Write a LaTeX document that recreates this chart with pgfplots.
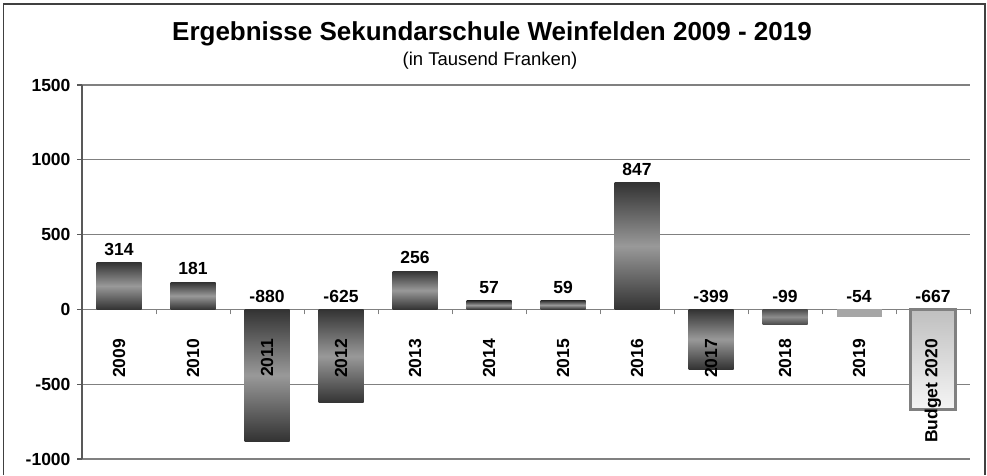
\documentclass[border=0pt]{standalone}
\usepackage{pgfplots}
\pgfplotsset{compat=1.18}
\usepackage{fontspec}
\setmainfont{Liberation Sans}
\pgfplotsset{
 layers/mylayers/.define layer set={
   axis background,axis grid,axis ticks,axis lines,
   main,axis tick labels,axis descriptions,axis foreground
 }{
   grid style={/pgfplots/on layer=axis grid},
   tick style={/pgfplots/on layer=axis ticks},
   axis line style={/pgfplots/on layer=axis lines},
   label style={/pgfplots/on layer=axis descriptions},
   legend style={/pgfplots/on layer=axis descriptions},
   title style={/pgfplots/on layer=axis descriptions},
   colorbar style={/pgfplots/on layer=axis descriptions},
   ticklabel style={/pgfplots/on layer=axis tick labels},
   axis background@ style={/pgfplots/on layer=axis background},
   3d box foreground style={/pgfplots/on layer=axis foreground},
 },
 gbar/.style={ybar, bar width=45pt, bar shift=0pt, draw=none,
   top color=black!80, bottom color=black!80, middle color=black!40},
}
\pgfplotstableread{
x y l
0 314 314
1 181 181
2 0 -880
3 0 -625
4 256 256
5 57 57
6 59 59
7 847 847
8 0 -399
9 0 -99
10 0 -54
11 0 -667
}\labeltab
\begin{document}
\begin{tikzpicture}
\begin{axis}[
  set layers=mylayers,
  scale only axis, width=888pt, height=374pt,
  at={(0pt,0pt)}, anchor=south west,
  xmin=-0.5, xmax=11.5, ymin=-1000, ymax=1500,
  axis x line*=middle, axis y line*=left,
  x axis line style={black!50, line width=1.2pt},
  y axis line style={black!65, line width=2pt},
  ytick={-1000,-500,0,500,1000,1500},
  yticklabels={-1000,-500,0,500,1000,1500},
  ymajorgrids, grid style={black!50, line width=1.2pt},
  major tick length=5pt, minor tick length=5pt,
  tick align=outside,
  ytick style={black!65, line width=1.2pt},
  xtick={0,...,11},
  xticklabels={2009,2010,2011,2012,2013,2014,2015,2016,2017,2018,2019,Budget 2020},
  major x tick style={draw=none},
  minor xtick={-0.5,0.5,...,11.5},
  minor x tick style={black!50, line width=1pt},
  xticklabel style={rotate=90, anchor=east, font=\bfseries\fontsize{17.5}{20}\selectfont},
  xticklabel shift=21pt,
  yticklabel style={font=\bfseries\fontsize{17.5}{20}\selectfont, xshift=-3pt},
  clip=false,
]
\addplot[gbar] coordinates {(0,314)};
\addplot[gbar] coordinates {(1,181)};
\addplot[gbar] coordinates {(2,-880)};
\addplot[gbar] coordinates {(3,-625)};
\addplot[gbar] coordinates {(4,256)};
\addplot[gbar] coordinates {(5,57)};
\addplot[gbar] coordinates {(6,59)};
\addplot[gbar] coordinates {(7,847)};
\addplot[gbar] coordinates {(8,-399)};
\addplot[gbar, top color=black!70, bottom color=black!70, middle color=black!45] coordinates {(9,-99)};
\addplot[ybar, bar width=45pt, bar shift=0pt, draw=none, fill=black!35]
  coordinates {(10,-54)};
\addplot[ybar, bar width=45pt, bar shift=0pt, draw=black!50, line width=3pt,
  top color=black!25, bottom color=black!4]
  coordinates {(11,-667)};
\addplot[draw=none, mark=none, nodes near coords, point meta=explicit symbolic,
  nodes near coords style={anchor=south, inner sep=0pt, yshift=7pt,
    font=\bfseries\fontsize{17.5}{20}\selectfont}]
  table[x=x, y=y, meta=l] {\labeltab};
\end{axis}
\node[anchor=base, font=\bfseries\fontsize{26}{30}\selectfont] at (410pt,418pt) {Ergebnisse Sekundarschule Weinfelden 2009 - 2019};
\node[anchor=base, font=\fontsize{18.5}{22}\selectfont] at (408pt,393pt) {(in Tausend Franken)};
\draw[line width=1.5pt, black!75] (-78.5pt,-16pt) -- (-78.5pt,455pt) -- (903pt,455pt) -- (903pt,-16pt);
\path[use as bounding box] (-82pt,-16pt) rectangle (905pt,459pt);
\end{tikzpicture}
\end{document}
